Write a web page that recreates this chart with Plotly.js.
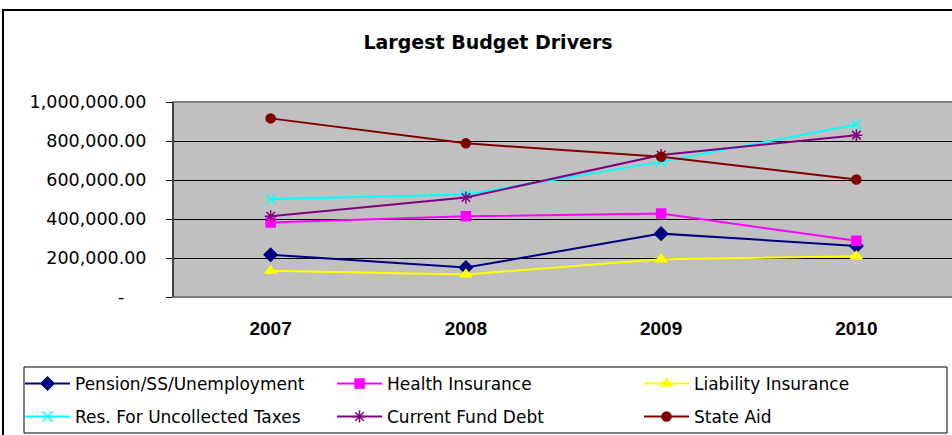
<!DOCTYPE html>
<html>
<head>
<meta charset="utf-8">
<script src="https://cdn.plot.ly/plotly-3.0.1.min.js"></script>
<style>
html,body{margin:0;padding:0;overflow:hidden;background:#fff;}
#chart{width:960px;height:435px;}
</style>
</head>
<body>
<div id="chart"></div>
<script>
const years = ['2007', '2008', '2009', '2010'];
const pension = [217000, 151000, 325000, 262000];
const health = [382000, 414000, 428000, 288000];
const liability = [134000, 116000, 193000, 209000];
const uncollected = [502000, 526000, 693000, 885000];
const fundDebt = [414000, 510000, 728000, 830000];
const stateAid = [916000, 788000, 719000, 603000];
const seriesNames = ['Pension/SS/Unemployment', 'Health Insurance', 'Liability Insurance',
  'Res. For Uncollected Taxes', 'Current Fund Debt', 'State Aid'];
const yTickVals = [0, 200000, 400000, 600000, 800000, 1000000];
const yTickText = ['-\u00a0\u00a0\u00a0\u00a0', '200,000.00', '400,000.00', '600,000.00', '800,000.00', '1,000,000.00'];

function tr(name, y, color, symbol, size, legend) {
  return {
    type: 'scatter', mode: 'lines+markers', name: name, x: years, y: y,
    line: {color: color, width: 2},
    marker: {color: color, symbol: symbol, size: size, line: {color: color, width: 1.5}},
    legend: legend
  };
}
const data = [
  tr(seriesNames[0], pension, '#000080', 'diamond', 10, 'legend'),
  tr(seriesNames[1], health, '#FF00FF', 'square', 9, 'legend2'),
  tr(seriesNames[2], liability, '#FFFF00', 'triangle-up', 10, 'legend3'),
  tr(seriesNames[3], uncollected, '#00FFFF', 'x-thin-open', 10, 'legend4'),
  tr(seriesNames[4], fundDebt, '#800080', 'asterisk-open', 10, 'legend5'),
  tr(seriesNames[5], stateAid, '#800000', 'circle', 9, 'legend6')
];

const px2x = p => (p - 173) / 781;
const px2y = p => (297 - p) / 195;
function leg(xpx, ypx) {
  return {
    orientation: 'h', xanchor: 'left', yanchor: 'middle', x: px2x(xpx), y: px2y(ypx),
    itemwidth: 45, bgcolor: 'rgba(0,0,0,0)', borderwidth: 0,
    font: {family: 'DejaVu Sans', size: 17, color: '#000'}
  };
}

const layout = {
  width: 960, height: 435,
  margin: {l: 173, r: 6, t: 102, b: 138, autoexpand: false},
  paper_bgcolor: '#ffffff', plot_bgcolor: '#C0C0C0',
  title: {text: 'Largest Budget Drivers', xref: 'container', yref: 'container',
    x: 488 / 960, y: 1 - 42 / 435, xanchor: 'center', yanchor: 'middle',
    font: {family: 'DejaVu Sans', size: 19, color: '#000', weight: 'bold'}},
  xaxis: {type: 'category', range: [-0.5, 3.5], showgrid: false, zeroline: false,
    showline: false, ticks: '', ticklabelstandoff: 18,
    tickfont: {family: 'Liberation Sans', size: 19, color: '#000', weight: 'bold'}},
  yaxis: {range: [0, 1000000], tickvals: yTickVals, ticktext: yTickText,
    showgrid: true, gridcolor: '#000', gridwidth: 1, zeroline: false,
    showline: true, linecolor: '#000', linewidth: 1,
    ticks: 'outside', ticklen: 6, tickcolor: '#000', ticklabelstandoff: 16,
    tickfont: {family: 'DejaVu Sans', size: 17.5, color: '#000'}},
  showlegend: true,
  legend: leg(20, 384),
  legend2: leg(332, 384),
  legend3: leg(639, 384),
  legend4: leg(20, 417),
  legend5: leg(332, 417),
  legend6: leg(639, 417),
  shapes: [
    {type: 'rect', xref: 'paper', yref: 'paper', x0: 0, x1: 1, y0: 0, y1: 1,
      line: {color: '#808080', width: 2}, layer: 'above'},
    {type: 'line', xref: 'paper', yref: 'paper', x0: 0, x1: 0, y0: 0, y1: 1,
      line: {color: '#000', width: 1}, layer: 'above'},
    {type: 'rect', xref: 'paper', yref: 'paper', x0: px2x(3), x1: px2x(960), y0: px2y(440), y1: px2y(10),
      line: {color: '#000', width: 2}, layer: 'below'},
    {type: 'rect', xref: 'paper', yref: 'paper', x0: px2x(24), x1: px2x(947), y0: px2y(433), y1: px2y(367),
      line: {color: '#000', width: 1}, fillcolor: 'rgba(0,0,0,0)', layer: 'below'}
  ]
};
Plotly.newPlot('chart', data, layout, {displayModeBar: false, staticPlot: true});
</script>
</body>
</html>
